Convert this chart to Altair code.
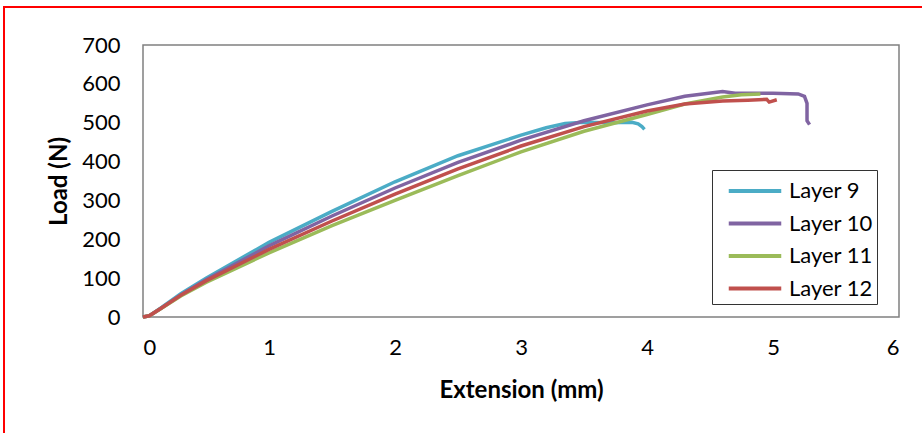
import altair as alt
import pandas as pd

series_names = ["Layer 9", "Layer 10", "Layer 11", "Layer 12"]
series_colors = ["#4BACC6", "#8064A2", "#9BBB59", "#C0504D"]

layer9_x = [0, 0.05, 0.15, 0.3, 0.5, 1.0, 1.5, 2.0, 2.5, 3.0, 3.2, 3.35, 3.5, 3.7, 3.88, 3.93, 3.96, 3.98]
layer9_y = [0, 3, 25, 60, 100, 192, 272, 348, 415, 468, 487, 498, 501, 500, 501, 497, 490, 483]

layer10_x = [0, 0.05, 0.15, 0.3, 0.5, 1.0, 1.5, 2.0, 2.5, 3.0, 3.5, 4.0, 4.3, 4.6, 4.7, 5.0, 5.2, 5.25, 5.27, 5.27, 5.29]
layer10_y = [0, 3, 24, 57, 96, 183, 260, 332, 398, 455, 505, 546, 568, 580, 576, 576, 574, 568, 550, 505, 495]

layer11_x = [0, 0.05, 0.15, 0.3, 0.5, 1.0, 1.5, 2.0, 2.5, 3.0, 3.5, 4.0, 4.3, 4.6, 4.75, 4.9]
layer11_y = [0, 3, 23, 54, 89, 165, 235, 300, 364, 425, 478, 521, 548, 566, 572, 574]

layer12_x = [0, 0.05, 0.15, 0.3, 0.5, 1.0, 1.5, 2.0, 2.5, 3.0, 3.5, 4.0, 4.3, 4.6, 4.8, 4.95, 4.97, 5.03]
layer12_y = [0, 3, 24, 56, 93, 174, 247, 316, 381, 440, 490, 530, 548, 556, 558, 560, 553, 559]

x_ticks = [0, 1, 2, 3, 4, 5, 6]
y_ticks = [0, 100, 200, 300, 400, 500, 600, 700]

rows = []
for name, xs, ys in zip(series_names,
                        [layer9_x, layer10_x, layer11_x, layer12_x],
                        [layer9_y, layer10_y, layer11_y, layer12_y]):
    for i, (xv, yv) in enumerate(zip(xs, ys)):
        rows.append({"series": name, "ext": xv, "load": yv, "idx": i})
df = pd.DataFrame(rows)

FONT = "Lato"
W, H = 756, 272
PAD_L, PAD_T = 143, 45

frame = alt.Chart(pd.DataFrame({"a": [0]})).mark_rect(
    fill="transparent", stroke="#ff0000", strokeWidth=2, clip=False
).encode(
    x=alt.value(4 - PAD_L), x2=alt.value(922 - PAD_L + 5),
    y=alt.value(7 - PAD_T), y2=alt.value(433 - PAD_T + 5),
)

lines = alt.Chart(df).mark_line(strokeWidth=3.5, clip=False).encode(
    x=alt.X("ext:Q", title="Extension (mm)",
            scale=alt.Scale(domain=[0, 6], nice=False),
            axis=alt.Axis(values=x_ticks, format="d", grid=False, domain=False,
                          ticks=False, labelPadding=20, titlePadding=20)),
    y=alt.Y("load:Q", title="Load (N)",
            scale=alt.Scale(domain=[0, 700], nice=False),
            axis=alt.Axis(values=y_ticks, format="d", grid=False, domain=False,
                          ticks=False, labelPadding=23, titlePadding=10)),
    color=alt.Color("series:N", sort=series_names,
                    scale=alt.Scale(domain=series_names, range=series_colors),
                    legend=alt.Legend(title=None, orient="none", legendX=569, legendY=125,
                                      symbolType="M-1.75,0H1.75", symbolSize=900,
                                      symbolStrokeWidth=4, symbolOffset=22,
                                      labelFontSize=22,
                                      labelFont=FONT, labelColor="#000",
                                      strokeColor="#333", padding=4,
                                      rowPadding=4.5, labelOffset=17,
                                      fillColor="white")),
    order="idx:Q",
)

chart = alt.layer(frame, lines).properties(
    width=W, height=H,
    autosize=alt.AutoSizeParams(type="none"),
    padding={"left": PAD_L, "top": PAD_T, "right": 922 - PAD_L - W, "bottom": 433 - PAD_T - H},
    background="white",
).configure_view(
    stroke="#808080", strokeWidth=1.5
).configure_axis(
    labelFont=FONT, labelFontSize=22, labelColor="#000",
    titleFont=FONT, titleFontSize=24, titleFontWeight="bold", titleColor="#000",
    zindex=1,
)

chart.save("out.html", embed_options={"renderer": "svg", "actions": False})
